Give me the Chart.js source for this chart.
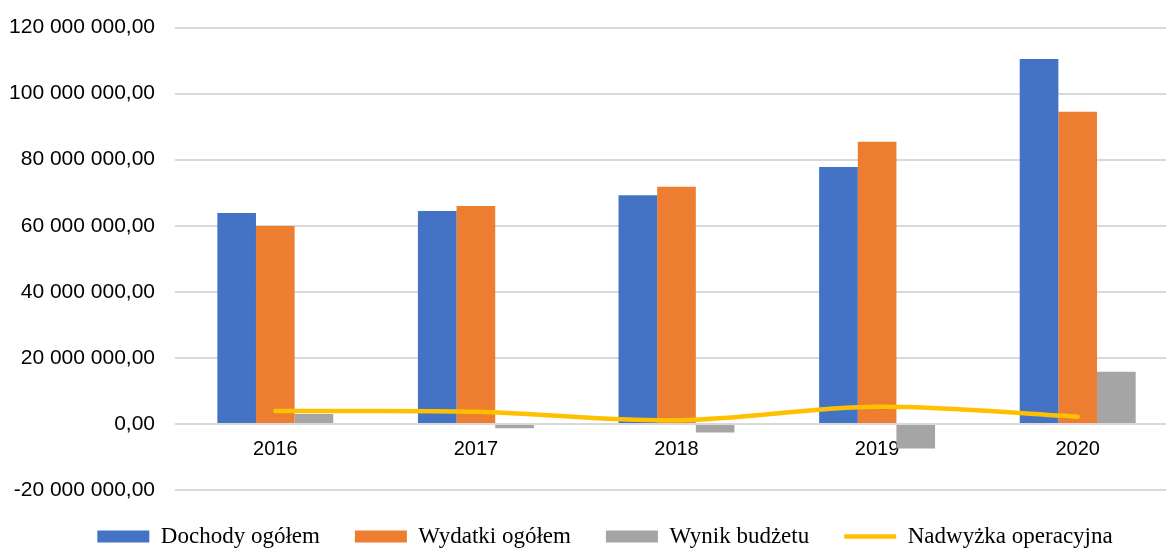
<!DOCTYPE html>
<html lang="pl">
<head>
<meta charset="utf-8">
<title>Budżet 2016-2020</title>
<script src="https://cdn.jsdelivr.net/npm/chart.js@4.4.1/dist/chart.umd.min.js"></script>
<style>
    html, body { margin: 0; padding: 0; background: #fff; overflow: hidden; }
    #wrap { width: 1178px; height: 550px; }
</style>
</head>
<body>
<div id="wrap"><canvas id="grafico" width="1178" height="550"></canvas></div>
<script>
// dane
const lata = ['2016', '2017', '2018', '2019', '2020'];
const dochody = [63850000, 64450000, 69200000, 77800000, 110500000];
const wydatki = [59900000, 66000000, 71800000, 85400000, 94500000];
const wynik = [3000000, -1300000, -2600000, -7400000, 15800000];
const nadwyzka = [3900000, 3700000, 1100000, 5200000, 2200000];
const osY = { min: -20000000, max: 120000000, krok: 20000000 };

function formatPL(v) {
    const neg = v < 0;
    const s = Math.round(Math.abs(v)).toString().replace(/\B(?=(\d{3})+(?!\d))/g, ' ');
    return (neg ? '-' : '') + s + ',00';
}

// legenda: niższa niż domyślna i przesunięta w prawo
const legendaFit = {
    id: 'legendaFit',
    beforeInit(chart) {
        const fit = chart.legend.fit;
        const draw = chart.legend.draw;
        chart.legend.fit = function() {
            fit.call(this);
            this.height = 60;
        };
        chart.legend.draw = function() {
            this.ctx.save();
            this.ctx.translate(16, 0);
            draw.call(this);
            this.ctx.restore();
        };
    }
};

const ctx = document.getElementById('grafico').getContext('2d');
new Chart(ctx, {
    type: 'bar',
    data: {
        labels: lata,
        datasets: [
            {
                label: 'Dochody ogółem',
                data: dochody,
                backgroundColor: '#4472C4',
                borderWidth: 0,
                pointStyle: 'rect',
                order: 1
            },
            {
                label: 'Wydatki ogółem',
                data: wydatki,
                backgroundColor: '#ED7D31',
                borderWidth: 0,
                pointStyle: 'rect',
                order: 1
            },
            {
                label: 'Wynik budżetu',
                data: wynik,
                backgroundColor: '#A5A5A5',
                borderWidth: 0,
                pointStyle: 'rect',
                order: 1
            },
            {
                type: 'line',
                label: 'Nadwyżka operacyjna',
                data: nadwyzka,
                borderColor: '#FFC000',
                backgroundColor: '#FFC000',
                borderWidth: 4.5,
                borderCapStyle: 'round',
                tension: 0.35,
                pointRadius: 0,
                pointStyle: 'line',
                order: 0
            }
        ]
    },
    options: {
        responsive: false,
        animation: false,
        layout: { padding: { left: 0, right: 0, top: 27.5, bottom: 0 } },
        datasets: {
            bar: { categoryPercentage: 0.578, barPercentage: 1 }
        },
        plugins: {
            tooltip: { enabled: false },
            legend: {
                position: 'bottom',
                labels: {
                    usePointStyle: true,
                    pointStyleWidth: 52,
                    boxHeight: 12,
                    padding: 35,
                    color: '#000',
                    font: { family: '"Liberation Serif", "Times New Roman", serif', size: 23 },
                    sort: (a, b) => a.datasetIndex - b.datasetIndex
                }
            }
        },
        scales: {
            x: {
                position: { y: 0 },
                afterFit(scale) {
                    scale.height = 0;
                    scale.paddingTop = 0;
                    scale.paddingBottom = 0;
                },
                grid: { display: false },
                border: { display: false },
                ticks: {
                    padding: 6,
                    color: '#000',
                    font: { family: '"Liberation Sans", Arial, sans-serif', size: 20 }
                }
            },
            y: {
                min: osY.min,
                max: osY.max,
                afterFit(scale) {
                    scale.width = 175;
                    scale.paddingTop = 0;
                    scale.paddingBottom = 0;
                },
                grid: { color: '#d9d9d9', lineWidth: 2, drawTicks: false },
                border: { display: false },
                ticks: {
                    stepSize: osY.krok,
                    padding: 20,
                    color: '#000',
                    font: { family: '"Liberation Sans", Arial, sans-serif', size: 21 },
                    callback: v => formatPL(v)
                }
            }
        }
    },
    plugins: [legendaFit]
});
</script>
</body>
</html>
